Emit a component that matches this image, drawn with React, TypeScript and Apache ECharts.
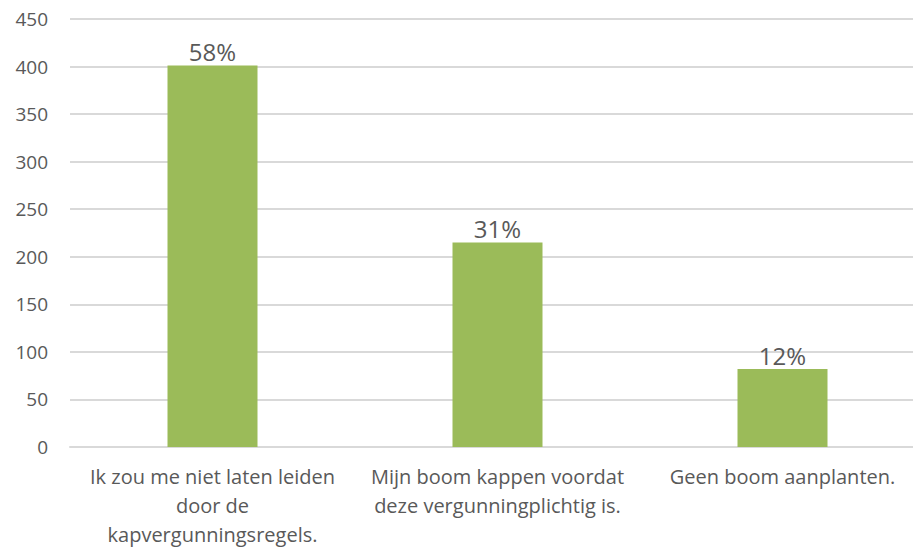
import React, { useEffect, useRef } from "react";
import * as echarts from "echarts";

const categories = [
  "Ik zou me niet laten leiden\ndoor de\nkapvergunningsregels.",
  "Mijn boom kappen voordat\ndeze vergunningplichtig is.",
  "Geen boom aanplanten.",
];
const values = [401, 215, 82];
const percentLabels = ["58%", "31%", "12%"];

export default function App() {
  const ref = useRef<HTMLDivElement>(null);
  useEffect(() => {
    if (!ref.current) return;
    const chart = echarts.init(ref.current, null, { renderer: "svg" });
    const font = "'Open Sans', sans-serif";
    chart.setOption({
      animation: false,
      grid: { left: 70, top: 19, right: 0, bottom: 102, containLabel: false },
      xAxis: {
        type: "category",
        data: categories,
        axisLine: { show: true, lineStyle: { color: "#d9d9d9", width: 2 } },
        axisTick: { show: false },
        axisLabel: {
          color: "#595959",
          fontSize: 20,
          fontFamily: font,
          lineHeight: 29,
          margin: 15,
          interval: 0,
        },
      },
      yAxis: {
        type: "value",
        min: 0,
        max: 450,
        interval: 50,
        axisLine: { show: false },
        axisTick: { show: false },
        splitLine: { lineStyle: { color: "#d9d9d9", width: 2 } },
        axisLabel: { color: "#595959", fontSize: 19, fontFamily: font, margin: 22 },
      },
      series: [
        {
          type: "bar",
          data: values,
          barWidth: 90,
          itemStyle: { color: "#9bbb59" },
          label: {
            show: true,
            position: "top",
            distance: 2,
            color: "#595959",
            fontSize: 24,
            fontFamily: font,
            formatter: (p: any) => percentLabels[p.dataIndex],
          },
        },
      ],
    });
    return () => chart.dispose();
  }, []);
  return (
    <div
      style={{ position: "fixed", left: 0, top: 0, width: 913, height: 549, overflow: "hidden", background: "#fff" }}
    >
      <div ref={ref} style={{ width: 925, height: 549 }} />
    </div>
  );
}
